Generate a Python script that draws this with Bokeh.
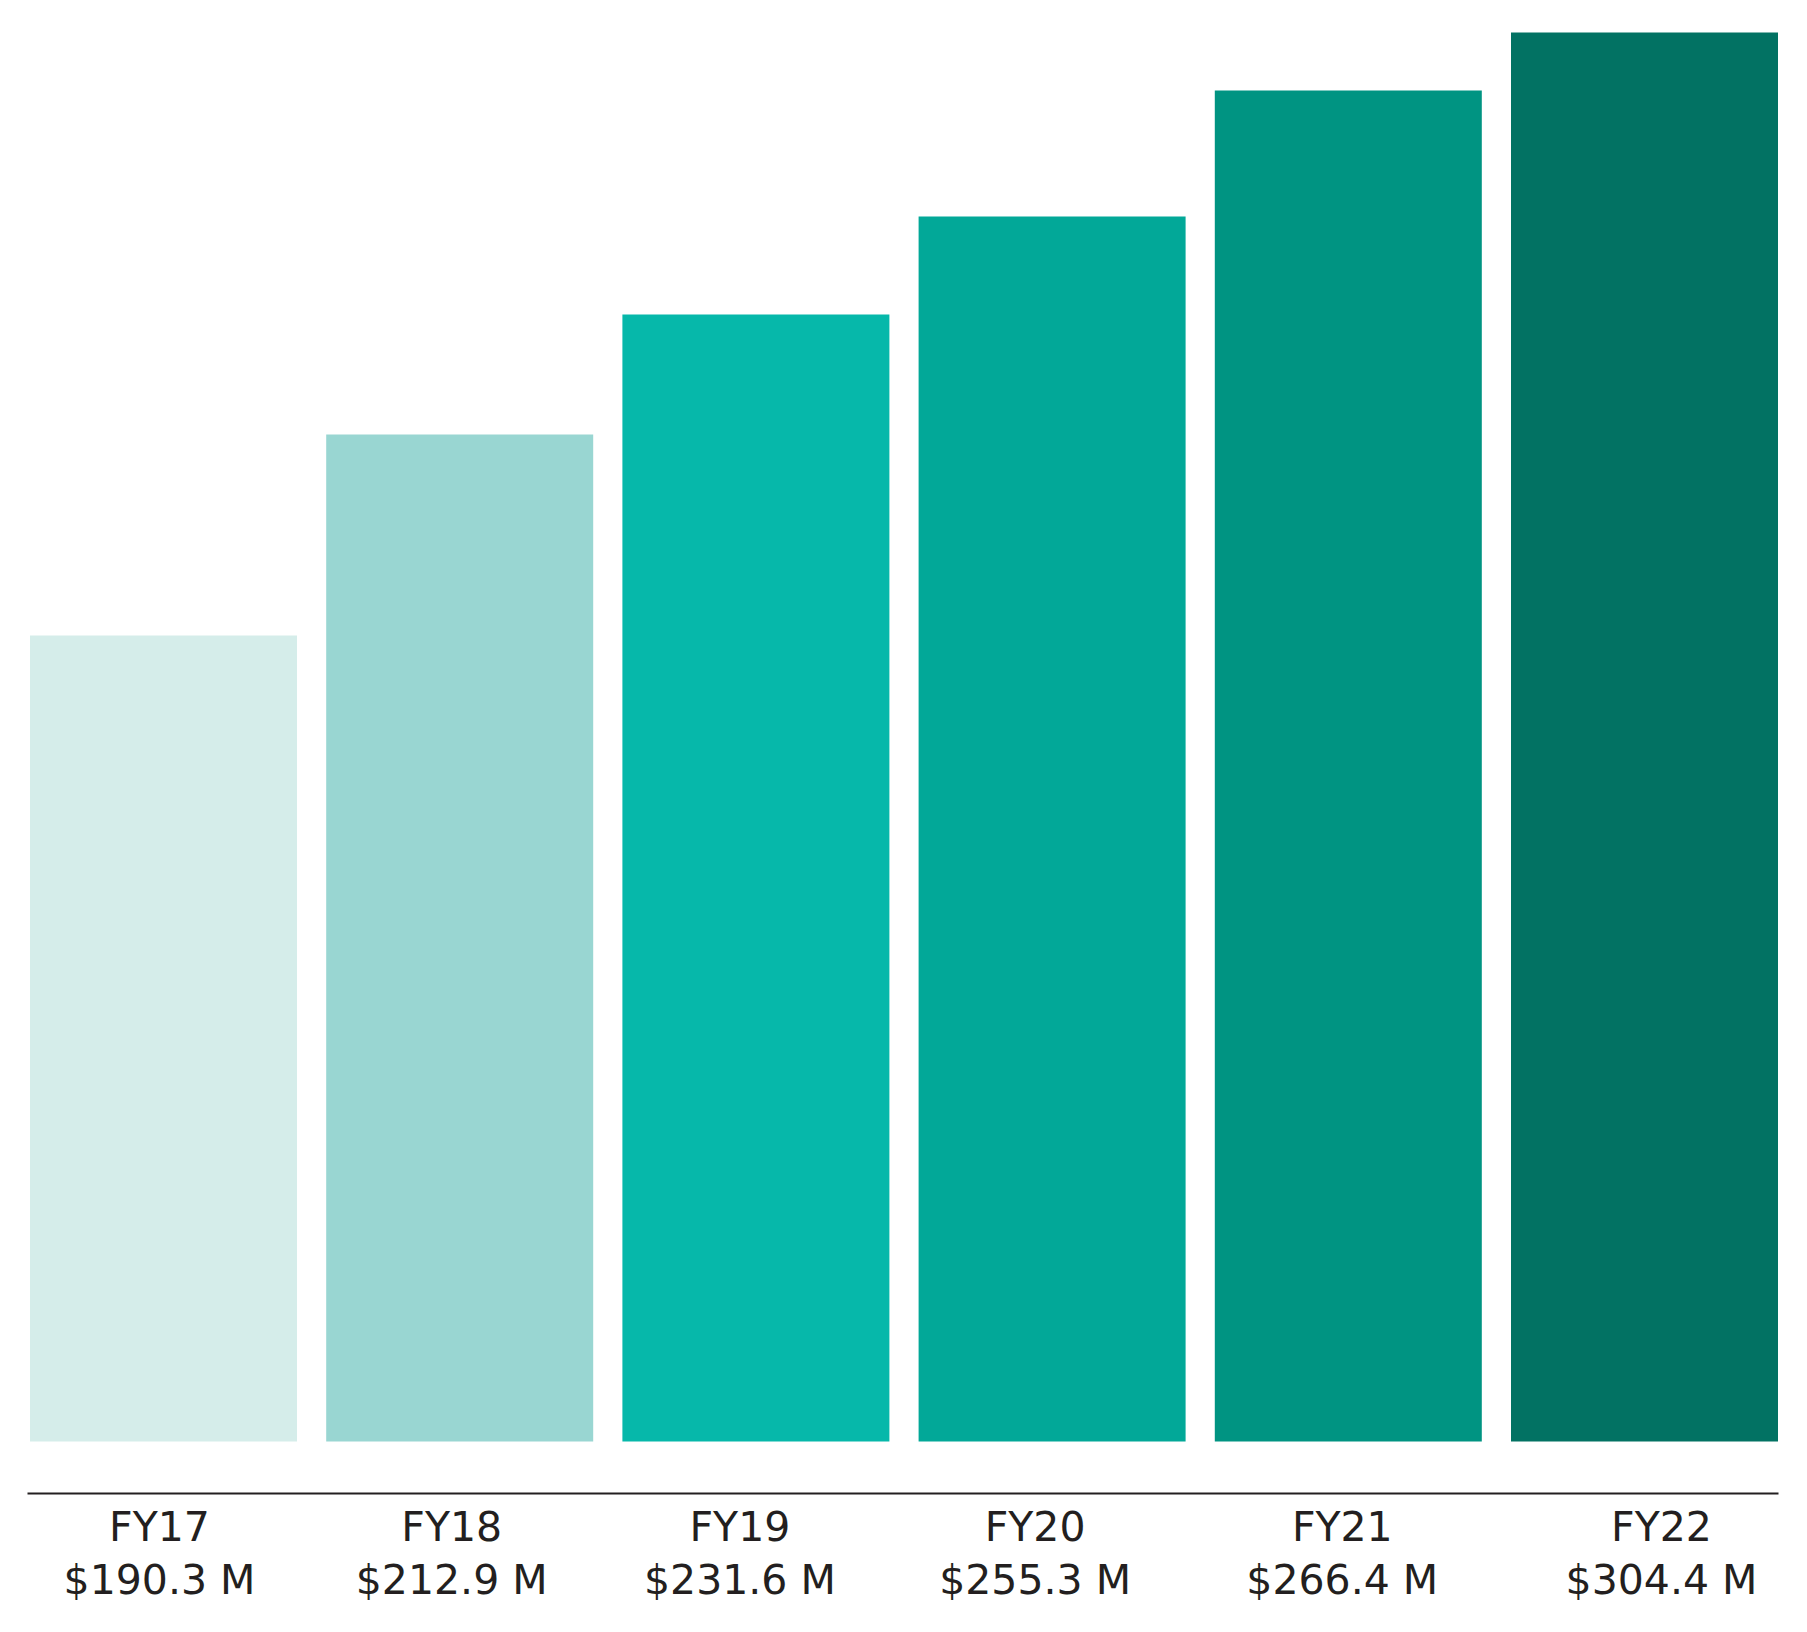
from bokeh.core.properties import value
from bokeh.embed import file_html
from bokeh.models import ColumnDataSource, Range1d
from bokeh.plotting import figure
from bokeh.resources import INLINE

# data
years = ["FY17", "FY18", "FY19", "FY20", "FY21", "FY22"]
revenue = ["$190.3 M", "$212.9 M", "$231.6 M", "$255.3 M", "$266.4 M", "$304.4 M"]
# bar heights as drawn (the bars are not to scale with the revenue figures)
bar_height = [806, 1007, 1127, 1225, 1351, 1409]
colors = ["#d5edea", "#99d6d2", "#06b8aa", "#02a898", "#009482", "#027263"]

# small horizontal nudges of the labels, in px, as in the original
label_nudge = [-4, -8, -16, -17, -6, 17]

W, H = 1790, 1615
step = 296.2          # px between bar centres
first_center = 163    # px from left edge
base = 1441           # px from top where the bars start

x = list(range(len(years)))
src = ColumnDataSource(dict(
    x=x, top=bar_height, color=colors, year=years, rev=revenue, nudge=label_nudge,
))

p = figure(width=W, height=H, output_backend="svg", toolbar_location=None,
           x_range=Range1d(-first_center / step, (W - first_center) / step),
           y_range=Range1d(base - H, base),
           min_border=0, outline_line_color=None)
p.axis.visible = False
p.grid.visible = False
p.background_fill_color = "white"
p.border_fill_color = "white"

p.vbar(x="x", top="top", bottom=0, width=267 / step, fill_color="color",
       line_color=None, source=src)

# baseline rule under the bars
p.segment(x0=[(27 - first_center) / step], y0=[-52],
          x1=[(1778 - first_center) / step], y1=[-52],
          line_color="#231f20", line_width=2)

font = value("DejaVu Sans")
p.text(x="x", y=-85, text="year", x_offset="nudge", source=src,
       text_align="center", text_baseline="alphabetic",
       text_font=font, text_font_size="41px", text_color="#231f20")
p.text(x="x", y=-138, text="rev", x_offset="nudge", source=src,
       text_align="center", text_baseline="alphabetic",
       text_font=font, text_font_size="41px", text_color="#231f20")

open("out.html", "w").write(file_html(p, INLINE))
